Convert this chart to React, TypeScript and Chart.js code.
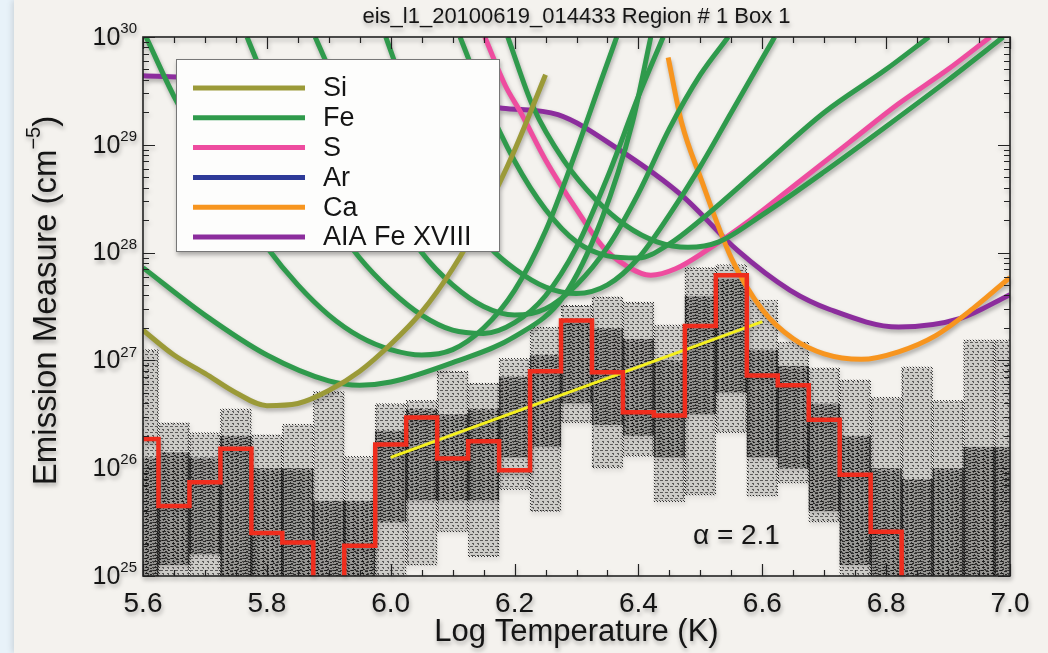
import React, { useEffect, useRef } from 'react';
import { Chart, registerables } from 'chart.js';

Chart.register(...registerables);

// ---- text ----
const TITLE = 'eis_l1_20100619_014433 Region # 1 Box 1';
const X_TITLE = 'Log Temperature (K)';
const Y_TITLE = 'Emission Measure (cm';
const Y_TITLE_SUP = '\u22125';
const Y_TITLE_END = ')';
const ALPHA_TEXT = '\u03b1 = 2.1';

// ---- axes ----
const X_MIN = 5.6;
const X_MAX = 7.0;
const X_TICK_LABELS = [5.6, 5.8, 6.0, 6.2, 6.4, 6.6, 6.8, 7.0];
const X_MINOR_STEP = 0.05;
const Y_DECADES = [25, 26, 27, 28, 29, 30];

// ---- DEM histogram (log EM per 0.05 bin in log T) ----
const BINS = [5.60, 5.65, 5.70, 5.75, 5.80, 5.85, 5.90, 5.95, 6.00, 6.05, 6.10, 6.15, 6.20, 6.25, 6.30,
  6.35, 6.40, 6.45, 6.50, 6.55, 6.60, 6.65, 6.70, 6.75, 6.80, 6.85, 6.90, 6.95, 7.00];
const EM_BEST = [26.27, 25.65, 25.87, 26.18, 25.40, 25.31, 24.60, 25.28, 26.22, 26.47, 26.09, 26.25, 25.98, 26.90, 27.37,
  26.89, 26.52, 26.49, 27.32, 27.79, 26.86, 26.77, 26.45, 25.94, 25.41, 24.60, 24.60, 24.60, 24.60];
// spread of the Monte Carlo realisations
const MC_LOW = [24.5, 24.5, 24.5, 24.5, 24.5, 24.5, 24.5, 24.5, 24.95, 25.10, 25.41, 25.18, 25.80, 25.60, 26.42,
  26.00, 26.11, 25.69, 25.75, 26.33, 25.74, 25.86, 25.50, 24.5, 24.5, 24.5, 24.5, 24.5, 24.5];
const MC_HIGH = [27.10, 26.42, 26.33, 26.55, 26.31, 26.41, 26.71, 26.11, 26.60, 26.63, 26.90, 26.79, 27.02, 27.31, 27.51,
  27.59, 27.54, 27.33, 27.86, 27.89, 27.56, 27.17, 26.93, 26.82, 26.66, 26.94, 26.63, 27.19, 27.19];
const MC_CORE_LOW = [24.9, 25.1, 25.2, 25.0, 24.9, 24.9, 24.9, 24.9, 25.5, 25.7, 25.7, 25.7, 26.1, 26.2, 26.6,
  26.4, 26.3, 26.1, 26.5, 26.7, 26.1, 26.0, 25.6, 25.1, 24.9, 24.9, 24.9, 24.9, 24.9];
const MC_CORE_HIGH = [26.1, 26.15, 26.1, 26.3, 26.0, 26.0, 25.7, 25.7, 26.35, 26.55, 26.5, 26.55, 26.85, 27.05, 27.35,
  27.3, 27.2, 27.0, 27.6, 27.75, 27.1, 26.95, 26.6, 26.3, 26.0, 25.9, 26.0, 26.2, 26.2];

// ---- power-law fit ----
const FIT_T = [6.0, 6.6];
const FIT_EM = [26.1, 27.36];

// ---- EM loci curves: [log T, log EM] ----
type Pt = [number, number];
const SI_LOCI: Pt[][] = [[
  [5.60, 27.28], [5.65, 27.05], [5.70, 26.88], [5.75, 26.70], [5.80, 26.58], [5.85, 26.60], [5.90, 26.72],
  [5.95, 26.90], [6.00, 27.15], [6.05, 27.45], [6.10, 27.85], [6.15, 28.35], [6.20, 28.95], [6.25, 29.65],
]];
const FE_LOCI: Pt[][] = [
  [[5.60, 27.86], [5.70, 27.42], [5.80, 27.05], [5.90, 26.81], [5.95, 26.77], [6.00, 26.80], [6.10, 26.98],
    [6.20, 27.22], [6.28, 27.60], [6.34, 28.30], [6.39, 29.20], [6.42, 30.00]],
  [[5.605, 30.00], [5.65, 29.45], [5.70, 28.95], [5.75, 28.48], [5.80, 28.05], [5.85, 27.70], [5.90, 27.42],
    [5.95, 27.22], [6.00, 27.10], [6.05, 27.05], [6.10, 27.10], [6.15, 27.30], [6.20, 27.65], [6.25, 28.20],
    [6.30, 28.95], [6.34, 29.60], [6.365, 30.00]],
  [[5.768, 30.00], [5.80, 29.55], [5.85, 28.90], [5.90, 28.35], [5.95, 27.95], [6.00, 27.65], [6.05, 27.42],
    [6.10, 27.28], [6.15, 27.25], [6.20, 27.35], [6.25, 27.60], [6.30, 28.05], [6.35, 28.70], [6.40, 29.45],
    [6.44, 30.00]],
  [[5.878, 30.00], [5.92, 29.45], [5.96, 28.90], [6.00, 28.45], [6.05, 28.00], [6.10, 27.70], [6.15, 27.50],
    [6.20, 27.42], [6.25, 27.48], [6.30, 27.70], [6.35, 28.05], [6.40, 28.55], [6.45, 29.15], [6.50, 29.65],
    [6.545, 30.00]],
  [[5.992, 30.00], [6.03, 29.40], [6.08, 28.75], [6.12, 28.35], [6.16, 28.05], [6.20, 27.85], [6.25, 27.68],
    [6.30, 27.62], [6.35, 27.70], [6.40, 27.95], [6.45, 28.35], [6.50, 28.80], [6.55, 29.30], [6.60, 29.80],
    [6.62, 30.00]],
  [[6.112, 30.00], [6.15, 29.45], [6.20, 28.85], [6.25, 28.40], [6.30, 28.10], [6.35, 27.97], [6.40, 27.95],
    [6.45, 28.08], [6.50, 28.30], [6.60, 28.80], [6.70, 29.30], [6.80, 29.70], [6.869, 30.00]],
  [[6.189, 30.00], [6.23, 29.35], [6.28, 28.85], [6.33, 28.50], [6.38, 28.25], [6.43, 28.10], [6.48, 28.05],
    [6.53, 28.10], [6.60, 28.35], [6.70, 28.75], [6.80, 29.17], [6.90, 29.60], [6.989, 30.00]],
];
const S_LOCI: Pt[][] = [[
  [6.152, 30.00], [6.185, 29.55], [6.21, 29.30], [6.25, 28.86], [6.30, 28.40], [6.343, 28.05], [6.38, 27.88],
  [6.42, 27.79], [6.46, 27.85], [6.51, 28.02], [6.58, 28.30], [6.66, 28.66], [6.74, 29.02], [6.82, 29.38],
  [6.90, 29.70], [6.968, 30.00],
]];
const AR_LOCI: Pt[][] = [];
const CA_LOCI: Pt[][] = [[
  [6.448, 29.81], [6.47, 29.20], [6.50, 28.70], [6.55, 27.95], [6.60, 27.47], [6.65, 27.20], [6.70, 27.06],
  [6.76, 27.01], [6.82, 27.08], [6.88, 27.23], [6.94, 27.48], [7.00, 27.77],
]];
const AIA_LOCI: Pt[][] = [[
  [5.60, 29.64], [5.70, 29.62], [5.80, 29.58], [5.90, 29.53], [6.00, 29.47], [6.10, 29.40], [6.18, 29.34],
  [6.27, 29.28], [6.37, 28.95], [6.47, 28.53], [6.56, 28.02], [6.645, 27.65], [6.71, 27.47], [6.82, 27.31],
  [6.92, 27.39], [7.00, 27.61],
]];

const LEGEND_LABELS = ['Si', 'Fe', 'S', 'Ar', 'Ca', 'AIA Fe XVIII'];
const LEGEND_COLORS = ['#9b9a38', '#2f9a4c', '#ee4c9f', '#2e3a98', '#f7951f', '#8c2d9d'];
const LOCI_GROUPS = [SI_LOCI, FE_LOCI, S_LOCI, AR_LOCI, CA_LOCI, AIA_LOCI];

const FONT = '"Liberation Sans", Arial, Helvetica, sans-serif';
const INK = '#151515';

function makePattern(w: number, h: number, draw: (c: CanvasRenderingContext2D) => void) {
  const cv = document.createElement('canvas');
  cv.width = w;
  cv.height = h;
  const c = cv.getContext('2d')!;
  draw(c);
  return c.createPattern(cv, 'repeat')!;
}

// frame, inward ticks, labels, legend box and annotation
const decorPlugin = {
  id: 'decor',
  afterDatasetsDraw(chart: any) {
    const { ctx, chartArea: a } = chart;
    const bx = a.left + 33, by = a.top + 22, bw = 324, bh = 193;
    ctx.save();
    ctx.fillStyle = '#fdfdfc';
    ctx.fillRect(bx, by, bw, bh);
    ctx.strokeStyle = '#777';
    ctx.lineWidth = 1;
    ctx.strokeRect(bx + 0.5, by + 0.5, bw - 1, bh - 1);
    ctx.font = `27px ${FONT}`;
    ctx.textBaseline = 'middle';
    ctx.textAlign = 'left';
    LEGEND_LABELS.forEach((lab, i) => {
      const yy = by + 29 + i * 29.8;
      ctx.strokeStyle = LEGEND_COLORS[i];
      ctx.lineWidth = 5;
      ctx.beginPath();
      ctx.moveTo(bx + 17, yy);
      ctx.lineTo(bx + 129, yy);
      ctx.stroke();
      ctx.fillStyle = INK;
      ctx.fillText(lab, bx + 147, yy + 1);
    });
    ctx.restore();
  },
  afterDraw(chart: any) {
    const { ctx, chartArea: a, scales } = chart;
    const xs = scales.x, ys = scales.y;
    ctx.save();
    ctx.strokeStyle = '#222';
    ctx.lineWidth = 1.2;
    ctx.beginPath();
    const nMinor = Math.round((X_MAX - X_MIN) / X_MINOR_STEP);
    for (let i = 0; i <= nMinor; i++) {
      const v = X_MIN + i * X_MINOR_STEP;
      const px = Math.round(xs.getPixelForValue(v)) + 0.5;
      const len = i % 4 === 0 ? 12 : 6;
      ctx.moveTo(px, a.bottom); ctx.lineTo(px, a.bottom - len);
      ctx.moveTo(px, a.top); ctx.lineTo(px, a.top + len);
    }
    Y_DECADES.forEach((d) => {
      const py = Math.round(ys.getPixelForValue(d)) + 0.5;
      ctx.moveTo(a.left, py); ctx.lineTo(a.left + 12, py);
      ctx.moveTo(a.right, py); ctx.lineTo(a.right - 12, py);
      if (d < Y_DECADES[Y_DECADES.length - 1]) {
        for (let m = 2; m <= 9; m++) {
          const q = Math.round(ys.getPixelForValue(d + Math.log10(m))) + 0.5;
          ctx.moveTo(a.left, q); ctx.lineTo(a.left + 6, q);
          ctx.moveTo(a.right, q); ctx.lineTo(a.right - 6, q);
        }
      }
    });
    ctx.stroke();
    ctx.lineWidth = 1.6;
    ctx.strokeRect(a.left, a.top, a.right - a.left, a.bottom - a.top);

    ctx.fillStyle = INK;
    ctx.font = `28px ${FONT}`;
    ctx.textAlign = 'center';
    ctx.textBaseline = 'middle';
    X_TICK_LABELS.forEach((v) => {
      ctx.fillText(v.toFixed(1), xs.getPixelForValue(v), a.bottom + 28);
    });
    Y_DECADES.forEach((d) => {
      const py = ys.getPixelForValue(d);
      ctx.font = `15px ${FONT}`;
      const sup = String(d);
      const sw = ctx.measureText(sup).width;
      const right = a.left - 6;
      ctx.textAlign = 'left';
      ctx.textBaseline = 'middle';
      ctx.fillText(sup, right - sw, py - 8);
      ctx.font = `25px ${FONT}`;
      ctx.textAlign = 'right';
      ctx.fillText('10', right - sw, py + 1);
    });
    ctx.font = `31px ${FONT}`;
    ctx.textAlign = 'center';
    ctx.textBaseline = 'middle';
    ctx.fillText(X_TITLE, (a.left + a.right) / 2, a.bottom + 56);

    ctx.save();
    ctx.translate(47, (a.top + a.bottom) / 2 - 6);
    ctx.rotate(-Math.PI / 2);
    const big = `33px ${FONT}`, small = `20px ${FONT}`;
    ctx.font = big;
    const w1 = ctx.measureText(Y_TITLE).width;
    const w3 = ctx.measureText(Y_TITLE_END).width;
    ctx.font = small;
    const w2 = ctx.measureText(Y_TITLE_SUP).width;
    const start = -(w1 + w2 + w3) / 2;
    ctx.textAlign = 'left';
    ctx.font = big;
    ctx.fillText(Y_TITLE, start, 0);
    ctx.fillText(Y_TITLE_END, start + w1 + w2, 0);
    ctx.font = small;
    ctx.fillText(Y_TITLE_SUP, start + w1, -13);
    ctx.restore();

    ctx.font = `22px ${FONT}`;
    ctx.textAlign = 'center';
    ctx.fillText(TITLE, (a.left + a.right) / 2, 17);

    ctx.font = `28px ${FONT}`;
    ctx.textAlign = 'left';
    ctx.fillText(ALPHA_TEXT, xs.getPixelForValue(6.488), ys.getPixelForValue(25.37));
    ctx.restore();
  },
};

export default function App() {
  const ref = useRef<HTMLCanvasElement>(null);

  useEffect(() => {
    const canvas = ref.current;
    if (!canvas) return;

    // fine dashed textures for the Monte Carlo spread
    const lightTex = makePattern(10, 6, (c) => {
      c.fillStyle = 'rgba(0,0,0,0.1)';
      c.fillRect(0, 0, 10, 6);
      c.fillStyle = 'rgba(20,20,20,0.62)';
      c.fillRect(0, 0, 3, 1);
      c.fillRect(5, 0, 3, 1);
      c.fillRect(2, 3, 2, 1);
      c.fillRect(7, 3, 2, 1);
      c.fillRect(3, 4, 1, 1);
      c.fillRect(8, 4, 1, 1);
    });
    const darkTex = makePattern(9, 6, (c) => {
      c.fillStyle = 'rgba(0,0,0,0.2)';
      c.fillRect(0, 0, 9, 6);
      c.fillStyle = 'rgba(0,0,0,0.72)';
      c.fillRect(0, 0, 3, 1);
      c.fillRect(5, 1, 3, 1);
      c.fillRect(2, 2, 1, 1);
      c.fillRect(1, 3, 3, 1);
      c.fillRect(6, 4, 2, 1);
      c.fillRect(3, 5, 2, 1);
    });
    const dotted = makePattern(3, 3, (c) => {
      c.fillStyle = 'rgba(0,0,0,0.8)';
      c.fillRect(0, 0, 1, 1);
      c.fillRect(1, 1, 1, 1);
      c.fillRect(2, 2, 1, 1);
    });

    const lociSets: any[] = [];
    LOCI_GROUPS.forEach((group, gi) => {
      group.forEach((curve) => {
        lociSets.push({
          type: 'line',
          data: curve.map(([t, em]) => ({ x: t, y: em })),
          borderColor: LEGEND_COLORS[gi],
          borderWidth: 5,
          pointRadius: 0,
          cubicInterpolationMode: 'monotone',
          fill: false,
          clip: 0,
          order: 5,
        });
      });
    });

    const chart = new Chart(canvas, {
      type: 'line',
      data: {
        datasets: [
          {
            type: 'line',
            data: BINS.map((t, i) => ({ x: t, y: EM_BEST[i] })),
            borderColor: '#ef2d1d',
            borderWidth: 4.5,
            stepped: 'middle',
            pointRadius: 0,
            fill: false,
            clip: 0,
            order: 0,
          },
          {
            type: 'line',
            data: FIT_T.map((t, i) => ({ x: t, y: FIT_EM[i] })),
            borderColor: '#f4ef1e',
            borderWidth: 3,
            pointRadius: 0,
            fill: false,
            clip: 0,
            order: 1,
          },
          ...lociSets,
          {
            type: 'bar',
            data: BINS.map((t, i) => ({ x: t, y: [MC_CORE_LOW[i], MC_CORE_HIGH[i]] })),
            backgroundColor: darkTex,
            borderColor: 'rgba(0,0,0,0.55)',
            borderWidth: { left: 1, right: 1, top: 0, bottom: 0 },
            borderSkipped: false,
            grouped: false,
            barPercentage: 1,
            categoryPercentage: 1,
            clip: 0,
            order: 19,
          },
          {
            type: 'bar',
            data: BINS.map((t, i) => ({ x: t, y: [MC_LOW[i], MC_HIGH[i]] })),
            backgroundColor: lightTex,
            borderColor: dotted,
            borderWidth: 1,
            borderSkipped: false,
            grouped: false,
            barPercentage: 1,
            categoryPercentage: 1,
            clip: 0,
            order: 20,
          },
        ] as any,
      },
      options: {
        animation: false,
        responsive: false,
        maintainAspectRatio: false,
        events: [],
        layout: { padding: { left: 143, right: 38, top: 37, bottom: 77 } },
        scales: {
          x: { type: 'linear', min: X_MIN, max: X_MAX, display: false, offset: false },
          y: { type: 'linear', min: Y_DECADES[0], max: Y_DECADES[Y_DECADES.length - 1], display: false },
        },
        plugins: { legend: { display: false }, tooltip: { enabled: false }, title: { display: false } },
      } as any,
      plugins: [decorPlugin],
    });
    return () => chart.destroy();
  }, []);

  return (
    <div style={{ position: 'absolute', left: 0, top: 0, width: 1048, height: 653, background: '#e8f2f9', overflow: 'hidden' }}>
      <div style={{ position: 'absolute', left: 14, top: 0, width: 1034, height: 653, background: '#f4f2ee', boxShadow: '-2px 0 6px rgba(0,0,0,0.12)' }} />
      <canvas
        ref={ref}
        width={1048}
        height={653}
        style={{ position: 'absolute', left: 0, top: 0, width: 1048, height: 653, filter: 'drop-shadow(1px 3px 2px rgba(0,0,0,0.3))' }}
      />
    </div>
  );
}
